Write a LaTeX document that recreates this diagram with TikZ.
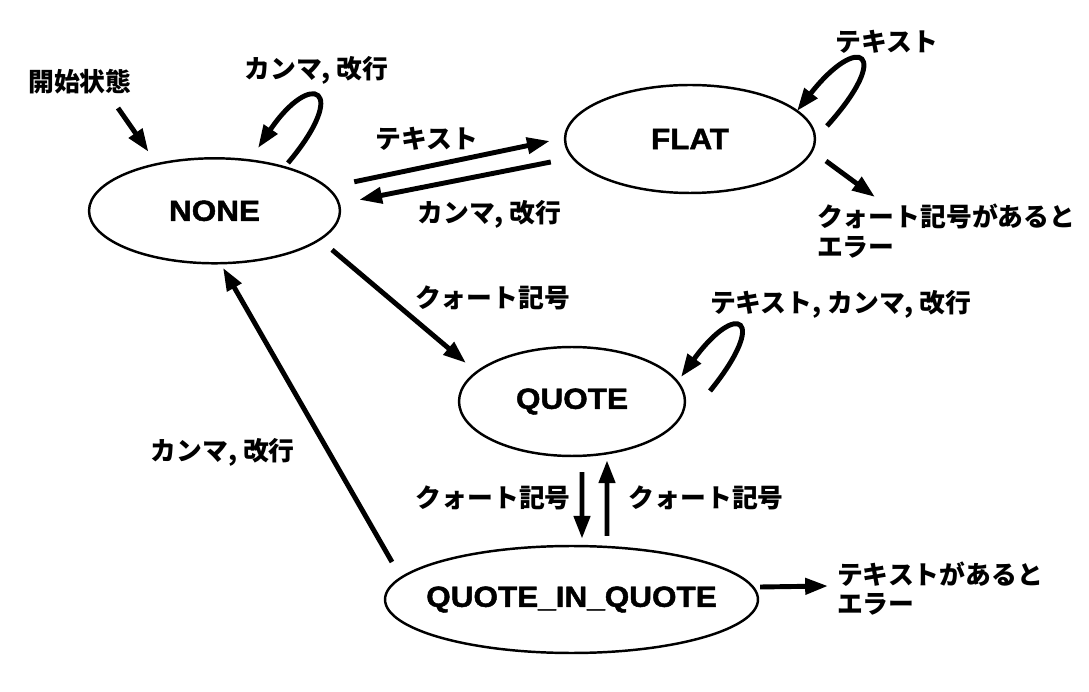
\documentclass[tikz,border=0pt]{standalone}
\usepackage{fontspec}
\setmainfont{Noto Sans CJK JP}
\newfontfamily\statefont[FakeStretch=1.08, FakeBold=1.6]{Liberation Sans}
\usetikzlibrary{arrows.meta,shapes.geometric}
\tikzset{
  state/.style={ellipse, draw, line width=1.4pt, inner sep=0pt,
                font=\statefont\bfseries\fontsize{16.6}{18}\selectfont},
  fl/.style={-{Triangle[length=13pt,width=9pt]}, line width=2.8pt},
  lbl/.style={font=\bfseries\fontsize{14.7}{17}\selectfont, inner sep=1pt},
  note/.style={lbl, align=left, anchor=west},
}

\begin{document}
\begin{tikzpicture}[x=0.02cm, y=0.02cm]
\useasboundingbox (0,0) rectangle (1089,-692);
\node[state, minimum width=5.02cm, minimum height=2.1cm] (none) at (214.5,-210.8) {\makebox[0pt]{NONE}};
\node[state, minimum width=5cm, minimum height=2.16cm] (flat) at (690,-139) {\makebox[0pt]{FLAT}};
\node[state, minimum width=4.52cm, minimum height=2.18cm] (quote) at (572,-401.5) {\makebox[0pt]{QUOTE}};
\node[state, minimum width=7.46cm, minimum height=2.14cm] (qiq) at (571.5,-599.5) {\makebox[0pt]{QUOTE\_IN\_QUOTE}};
\node[lbl] (startlbl) at (80,-82) {開始状態};
\node[note] (flaterr) at (815,-231) {クォート記号があると\\エラー};
\node[note] (qiqerr) at (835,-588.5) {テキストがあると\\エラー};
\draw[fl] ([shift={(38,-26)}]startlbl.center) -- ([shift={(-66,59)}]none.center);
\draw[fl] ([shift={(73.5,47.8)}]none.center) .. controls +(50:98) and +(56:95) .. ([shift={(43.5,62.8)}]none.center)
  node[lbl, pos=0.5, above=5pt]{カンマ, 改行};
\draw[fl] ([shift={(13,29)}]none.east) -- node[lbl, pos=0.37, above=7pt]{テキスト} ([shift={(-14,-2)}]flat.west);
\draw[fl] ([shift={(-13,-23)}]flat.west) -- node[lbl, pos=0.32, below=12.5pt]{カンマ, 改行} ([shift={(18,11)}]none.east);
\draw[fl] ([shift={(137,13)}]flat.center) .. controls +(48:100) and +(52:100) .. ([shift={(107,28)}]flat.center)
  node[lbl, pos=0.5, above=2pt, xshift=0.54cm]{テキスト};
\draw[fl] ([shift={(136,-22)}]flat.center) -- ([shift={(60,34)}]flaterr.west);
\draw[fl] ([shift={(117.5,-39)}]none.center) -- node[lbl, pos=0.425, right=12.5pt]{クォート記号} ([shift={(-106,38.5)}]quote.center);
\draw[fl] ([shift={(138,10.5)}]quote.center) .. controls +(51:95) and +(54:95) .. ([shift={(109,24.5)}]quote.center)
  node[lbl, pos=0.5, above=3pt, xshift=2.04cm]{テキスト, カンマ, 改行};
\draw[fl] ([shift={(10,-15)}]quote.south) -- node[lbl, pos=0.39, left=4pt]{クォート記号} ([shift={(10.5,6)}]qiq.north);
\draw[fl] ([shift={(35.5,9)}]qiq.north) -- node[lbl, pos=0.5, right=10pt]{クォート記号} ([shift={(35,-3)}]quote.south);
\draw[fl] ([shift={(-179.5,37.5)}]qiq.center) -- node[lbl, pos=0.374, left=17pt]{カンマ, 改行} ([shift={(8.5,-57)}]none.center);
\draw[fl] ([shift={(1,12.5)}]qiq.east) -- ([shift={(-7,2.5)}]qiqerr.west);
\end{tikzpicture}
\end{document}
